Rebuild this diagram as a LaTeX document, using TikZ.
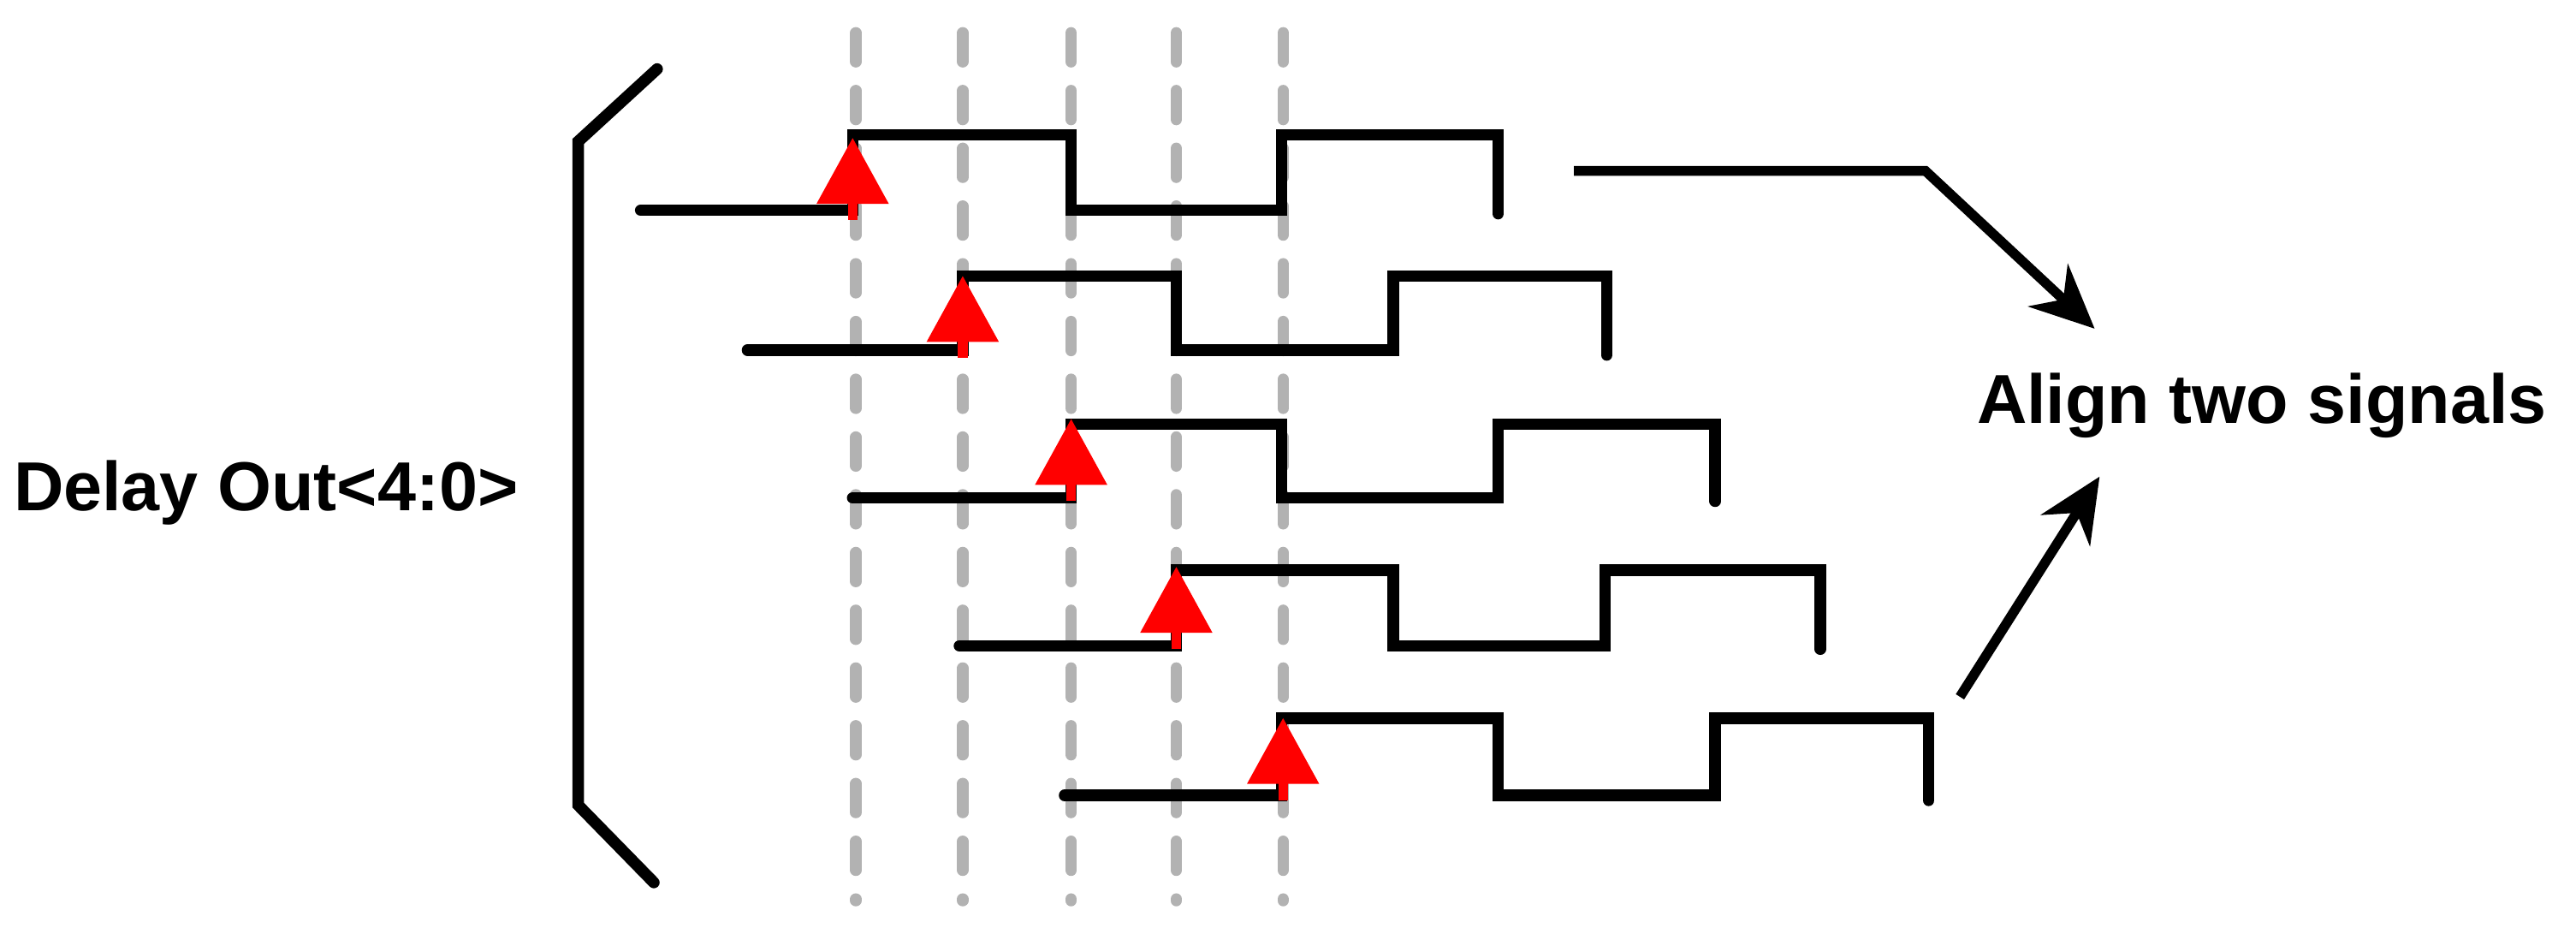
\documentclass[tikz,border=0pt]{standalone}
\usepackage{fontspec}
\setmainfont{Liberation Sans}
\usetikzlibrary{arrows.meta}
\begin{document}
\begin{tikzpicture}[x=0.02cm,y=-0.02cm,
  sig/.style={line width=4pt,line cap=round,line join=miter},
  grid/.style={line width=4pt,gray!60,dash pattern=on 10pt off 10pt,line cap=round},
  redarr/.style={fill=red,draw=none},
  lbl/.style={font=\bfseries\fontsize{24}{28}\selectfont,inner sep=0pt}]
\useasboundingbox (0,0) rectangle (1568,568);
\foreach \x [count=\i] in {521,586,652,716,781}
  \draw[grid] (\x,20) coordinate (gt\i) -- (\x,548) coordinate (gb\i);
% signals
\draw[sig] (390,128) -- (519,128) -- (519,82) -- (652,82) -- (652,128) -- (780,128) -- (780,82) -- (912,82) -- (912,130);
\draw[sig] (455,213) -- (586,213) -- (586,168) -- (716,168) -- (716,213) -- (848,213) -- (848,168) -- (978,168) -- (978,216);
\draw[sig] (519,303) -- (652,303) -- (652,258) -- (780,258) -- (780,303) -- (912,303) -- (912,258) -- (1044,258) -- (1044,305);
\draw[sig] (584,393) -- (716,393) -- (716,347) -- (848,347) -- (848,393) -- (977,393) -- (977,347) -- (1108,347) -- (1108,395);
\draw[sig] (648,484) -- (780,484) -- (780,437) -- (912,437) -- (912,484) -- (1044,484) -- (1044,437) -- (1174,437) -- (1174,487);
% red arrows
\foreach \x/\y in {519/84,586/168,652/255,716/345,781/437}{
  \fill[red] (\x-3,\y+30) rectangle (\x+3,\y+50);
  \fill[redarr] (\x,\y) -- (\x+22,\y+40) -- (\x-22,\y+40) -- cycle;}
% bracket
\draw[sig] (400,42) -- (352,86) -- (352,490) -- (398,537);
\node[lbl,anchor=west] (d) at (8,300) {Delay Out<4:0>};
\node[lbl,anchor=west] (a) at (1203,247) {Align two signals};
\coordinate (s1) at (958,104);
\coordinate (s2) at (1193,424);
\draw[line width=3.4pt,-{Stealth[length=22pt,width=20pt]}] (s1) -- (1172,104) -- (1275,200);
\draw[line width=3.4pt,-{Stealth[length=22pt,width=20pt]}] (s2) -- (1278,290);
\end{tikzpicture}
\end{document}
